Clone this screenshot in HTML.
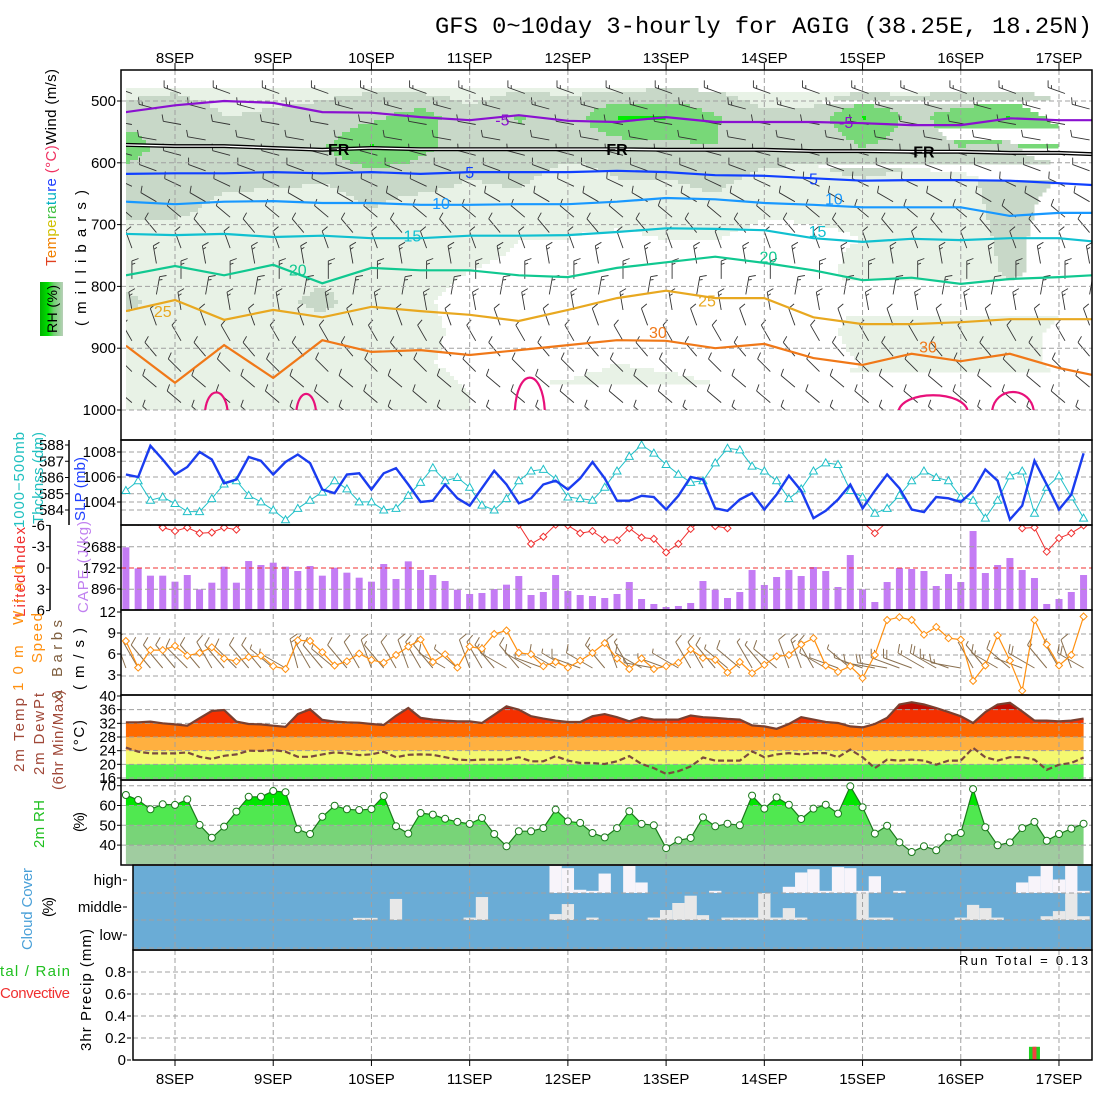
<!DOCTYPE html>
<html><head><meta charset="utf-8">
<style>
html,body{margin:0;padding:0;background:#fff}
svg{display:block;font-family:"Liberation Sans",sans-serif}
</style></head>
<body>
<svg id="chart" width="1100" height="1100" viewBox="0 0 1100 1100">
<defs>
<clipPath id="cp1"><rect x="126" y="72" width="966" height="338"/></clipPath>
<clipPath id="cp2"><rect x="121" y="440" width="971" height="85"/></clipPath>
<clipPath id="cp3"><rect x="121" y="525" width="971" height="85"/></clipPath>
<clipPath id="cp4"><rect x="121" y="610" width="971" height="85"/></clipPath>
<linearGradient id="rhg" x1="0" y1="0" x2="1" y2="0">
<stop offset="0" stop-color="#00b000"/><stop offset="0.35" stop-color="#00e000"/><stop offset="0.6" stop-color="#70d070"/><stop offset="1" stop-color="#b8d0b8"/></linearGradient>
</defs>
<text x="435" y="33" font-family="Liberation Mono, monospace" font-size="23" textLength="657" lengthAdjust="spacingAndGlyphs">GFS 0~10day 3-hourly for AGIG (38.25E, 18.25N)</text>
<g id="g-rh3d" clip-path="url(#cp1)"></g>
<g id="g-barb3d" clip-path="url(#cp1)"></g>
<g id="g-fills"></g>
<g id="g-grid"></g>
<g id="g-cont" clip-path="url(#cp1)"></g>
<g id="g-lines"></g>
<g id="g-frames" fill="none" stroke="#000" stroke-width="1.5">
<rect x="121" y="70" width="971" height="370"/>
<rect x="121" y="440" width="971" height="85"/>
<rect x="121" y="525" width="971" height="85"/>
<rect x="121" y="610" width="971" height="85"/>
<rect x="121" y="695" width="971" height="85"/>
<rect x="121" y="780" width="971" height="85"/>
<rect x="133" y="865" width="959" height="85"/>
<rect x="133" y="950" width="959" height="110"/>
<line x1="69" y1="440" x2="69" y2="525"/>
<line x1="50" y1="525" x2="50" y2="610"/>
</g>
<g id="g-labels" font-size="15"></g>
<g font-size="15">
<text transform="translate(56,266) rotate(-90)" textLength="197"><tspan fill="#e04020">T</tspan><tspan fill="#f08000">em</tspan><tspan fill="#d0c000">pe</tspan><tspan fill="#40c040">ra</tspan><tspan fill="#00b0c0">tu</tspan><tspan fill="#2040ff">re</tspan><tspan fill="#f03060"> (°C)</tspan><tspan fill="#000">Wind (m/s)</tspan></text>
<text transform="translate(86,326) rotate(-90)" textLength="136">(millibars)</text>
<rect x="40" y="282" width="23" height="54" fill="url(#rhg)"/>
<text transform="translate(57,333) rotate(-90)" font-size="14" textLength="48">RH (%)</text>
<text transform="translate(24,528) rotate(-90)" fill="#20c0c0" textLength="96">1000−500mb</text>
<text transform="translate(43,524) rotate(-90)" fill="#20c0c0" textLength="92">Thcknss (dm)</text>
<text transform="translate(85,521) rotate(-90)" fill="#2040ff" textLength="64">SLP (mb)</text>
<text transform="translate(25,617) rotate(-90)" fill="#f03030" textLength="90">Lifted Index</text>
<text transform="translate(88,613) rotate(-90)" fill="#c080f0" textLength="92">CAPE (J/kg)</text>
<text transform="translate(23,691) rotate(-90)" fill="#ff9010" textLength="125">10m Wind</text>
<text transform="translate(42,663) rotate(-90)" fill="#ff9010" textLength="50">Speed</text>
<text transform="translate(62,700) rotate(-90)" fill="#806040" textLength="80">&amp; Barbs</text>
<text transform="translate(84,690) rotate(-90)" textLength="62">(m/s)</text>
<text transform="translate(24,772) rotate(-90)" fill="#a04838" textLength="74">2m Temp</text>
<text transform="translate(44,775) rotate(-90)" fill="#a04838" textLength="82">2m DewPt</text>
<text transform="translate(63,790) rotate(-90)" fill="#a04838" textLength="100">(6hr Min/Max)</text>
<text transform="translate(84,752) rotate(-90)" textLength="32">(°C)</text>
<text transform="translate(44,848) rotate(-90)" fill="#20c020" textLength="48">2m RH</text>
<text transform="translate(84,832) rotate(-90)" textLength="20">(%)</text>
<text transform="translate(32,950) rotate(-90)" fill="#4aa0d8" textLength="82">Cloud Cover</text>
<text transform="translate(53,917) rotate(-90)" textLength="20">(%)</text>
<text x="0" y="976" fill="#20c020" textLength="70">tal / Rain</text>
<text x="0" y="998" fill="#f03030" textLength="70">Convective</text>
<text transform="translate(91,1051) rotate(-90)" textLength="122">3hr Precip (mm)</text>
<text x="1088" y="965" font-size="13" text-anchor="end" textLength="129">Run Total = 0.13</text>
</g>
</svg>
<script>
const NS='http://www.w3.org/2000/svg';
function mk(tag,attrs,parent){const e=document.createElementNS(NS,tag);for(const k in attrs)e.setAttribute(k,attrs[k]);parent.appendChild(e);return e;}
const G=id=>document.getElementById(id);

// ---------- data ----------
const days=['8SEP','9SEP','10SEP','11SEP','12SEP','13SEP','14SEP','15SEP','16SEP','17SEP'];
const slp=[1006.2,1006.0,1008.5,1007.4,1006.2,1006.8,1008.0,1007.4,1005.5,1005.8,1007.6,1007.3,1006.2,1007.2,1007.8,1007.1,1005.0,1004.7,1006.2,1006.3,1005.0,1006.3,1006.7,1005.4,1004.0,1004.1,1005.4,1004.3,1003.7,1005.1,1006.5,1005.4,1003.9,1004.3,1005.4,1005.7,1005.0,1005.9,1007.2,1005.9,1004.1,1004.1,1004.5,1004.4,1003.4,1004.5,1006.0,1005.8,1003.5,1003.3,1004.2,1004.7,1003.4,1004.6,1006.1,1004.9,1002.7,1003.3,1004.2,1005.4,1003.5,1004.9,1006.2,1005.1,1003.4,1003.2,1004.4,1004.3,1004.0,1004.9,1006.6,1005.7,1002.6,1003.7,1007.3,1005.4,1003.4,1004.6,1007.9];
const thick=[585.2,585.8,584.6,584.8,584.4,583.9,583.9,584.7,585.6,585.8,584.9,584.5,584.0,583.4,584.1,584.6,585.1,585.8,585.3,584.5,584.5,584.0,584.1,584.9,585.7,586.6,585.8,586.0,585.4,584.3,584.0,584.7,585.8,586.4,586.5,585.9,584.8,584.7,584.6,585.4,586.4,587.3,588.0,587.5,586.8,586.2,585.7,585.8,586.9,587.8,587.7,586.7,586.4,585.8,584.7,585.3,586.4,586.9,586.8,585.2,584.8,583.8,584.1,584.9,585.8,586.4,586.0,585.8,584.8,584.6,583.5,584.6,586.1,586.4,583.8,585.4,586.1,584.8,583.5];
const cape=[2674,1778,1465,1465,1209,1493,882,1166,1849,1166,2090,1920,2019,1849,1664,1877,1465,1806,1593,1379,1209,1962,1322,2076,1706,1493,1237,867,683,725,896,1081,1450,640,768,1493,811,640,597,512,683,1194,469,256,128,171,299,1237,867,512,768,1706,1067,1408,1706,1450,1834,1664,981,2346,882,341,1194,1792,1749,1664,1024,1536,1194,3370,1578,1920,2218,1706,1365,256,469,768,1493];
const liftedIndex=[-6.5,-6.5,-6.5,-5.7,-5.2,-5.7,-4.9,-5.0,-5.7,-5.4,-8,-8,-8,-8,-8,-8,-8,-8,-8,-8,-8,-8,-8,-8,-8,-8,-8,-8,-8,-8,-8,-8,-6.1,-3.4,-4.4,-6.1,-6.0,-4.9,-5.2,-4.0,-3.9,-5.6,-4.3,-4.1,-2.2,-3.4,-5.5,-7,-5.9,-5.6,-8,-8,-8,-8,-8,-8,-8,-8,-8,-8,-6.5,-4.9,-6.5,-8,-8,-8,-8,-8,-8,-8,-8,-8,-8,-5.6,-5.7,-2.3,-4.2,-4.9,-6.0];
const windSpeed=[8.0,4.2,6.7,6.7,7.3,5.9,6.3,7.1,5.5,5.1,5.7,5.9,4.4,4.0,8.1,8.0,6.4,4.5,5.1,6.2,5.3,4.9,6.0,7.2,8.2,5.0,6.1,4.2,7.2,6.9,9.0,9.5,6.3,6.1,4.4,5.0,4.2,5.2,6.3,7.7,5.5,4.0,5.5,4.0,4.4,4.9,6.8,5.6,5.3,3.5,5.0,3.4,4.6,5.8,6.0,7.5,8.4,4.5,3.6,4.4,2.7,6.0,11.0,11.4,11.0,8.9,10.0,8.4,8.2,2.3,4.5,8.8,5.2,0.9,11.0,7.5,4.5,6.0,11.5];
const windDir=[340,330,320,320,320,315,320,330,320,315,320,320,310,300,345,330,320,310,320,330,340,320,330,340,330,320,300,310,340,330,320,300,320,300,290,300,300,290,300,320,340,330,300,280,290,300,330,330,320,310,310,330,320,310,340,340,330,300,290,310,290,280,280,290,290,300,300,290,280,330,320,300,310,290,300,320,330,340,300];
const temp2m=[32.3,32.3,32.5,32.0,31.7,31.3,33.5,35.6,35.9,32.5,31.8,31.7,31.3,31.0,34.7,36.1,33.0,32.5,32.3,32.2,31.8,31.5,34.2,36.5,33.6,33.1,32.8,32.6,32.6,32.1,34.5,37.0,36.0,34.1,33.4,32.8,32.4,32.4,34.1,34.7,33.8,32.6,33.8,33.1,33.1,33.1,34.3,33.8,33.6,33.3,33.1,31.4,31.1,30.4,31.8,33.8,33.1,32.4,32.1,31.1,30.8,31.8,33.6,37.5,38.2,37.5,36.5,35.3,34.1,32.1,35.3,37.5,38.0,35.5,32.8,32.8,32.6,32.8,33.4];
const dewpt2m=[24.9,23.7,23.2,23.2,23.2,23.5,22.2,21.6,22.5,22.9,24.0,23.9,24.2,23.7,22.2,22.2,22.9,23.5,23.2,22.7,22.9,23.7,22.1,22.8,22.9,22.8,22.1,21.4,21.2,21.4,21.4,21.4,22.1,20.9,20.9,22.4,21.1,20.4,20.4,20.1,20.9,22.4,20.1,18.9,17.2,18.0,19.4,22.0,21.1,21.1,21.1,23.8,22.1,22.9,23.3,22.9,23.3,23.3,22.1,24.3,22.1,18.9,21.4,21.1,21.4,21.1,19.9,21.1,21.1,24.8,22.1,21.1,22.1,22.1,21.4,18.4,19.9,20.4,22.0];
const rh2m=[65.3,62.8,58.1,60.6,60.3,63.1,50.2,43.7,49.3,56.9,64.4,64.4,67.3,66.7,48.0,45.6,54.3,59.9,58.1,57.7,58.2,64.8,49.5,45.8,56.2,55.4,53.3,51.7,50.7,53.7,45.6,39.4,47.0,47.0,48.6,57.9,52.0,51.2,46.1,43.9,48.6,57.1,50.7,50.0,38.5,42.4,43.6,54.0,49.5,50.8,50.0,65.0,58.4,64.1,60.4,53.2,58.4,60.4,55.9,69.7,59.1,45.8,49.8,41.4,36.5,39.4,37.4,43.9,46.1,68.3,49.0,39.9,41.4,48.6,51.7,42.2,45.6,48.3,50.8];
const cloudHigh=[0,0,0,0,0,0,0,0,0,0,0,0,0,0,0,0,0,0,0,0,0,0,0,0,0,0,0,0,0,0,0,0,0,0,0,100,92,12,8,72,0,100,39,0,0,0,0,0,8,0,0,0,0,0,23,76,88,8,96,92,8,62,0,8,0,0,0,0,0,0,0,0,0,39,62,100,50,100,8];
const cloudMid=[0,0,0,0,0,0,0,0,0,0,0,0,0,0,0,0,0,0,0,8,8,0,78,0,0,0,0,0,9,85,0,0,0,0,0,22,59,0,9,0,0,0,0,9,37,63,90,18,0,9,9,9,100,9,44,9,0,0,0,0,100,9,9,0,0,0,0,0,9,56,44,9,0,0,0,14,33,100,14];
const cloudLow=new Array(79).fill(0);
const precipTotal=[0,0,0,0,0,0,0,0,0,0,0,0,0,0,0,0,0,0,0,0,0,0,0,0,0,0,0,0,0,0,0,0,0,0,0,0,0,0,0,0,0,0,0,0,0,0,0,0,0,0,0,0,0,0,0,0,0,0,0,0,0,0,0,0,0,0,0,0,0,0,0,0,0,0,0.12,0,0,0,0];
const precipConv=[0,0,0,0,0,0,0,0,0,0,0,0,0,0,0,0,0,0,0,0,0,0,0,0,0,0,0,0,0,0,0,0,0,0,0,0,0,0,0,0,0,0,0,0,0,0,0,0,0,0,0,0,0,0,0,0,0,0,0,0,0,0,0,0,0,0,0,0,0,0,0,0,0,0,0.12,0,0,0,0];
const rhTimes=[-12,0,12,24,36,48,60,72,84,96,108,120,132,144,156,168,180,192,204,216];
const rhLevels=[475,525,575,625,675,725,775,825,875,925,975];
const rhCols=[
[40,62,80,60,55,40,40,55,40,35,45],[45,65,60,60,55,40,40,40,40,40,45],[40,50,68,55,45,40,40,40,40,32,45],
[45,52,60,55,40,40,40,45,40,40,40],[45,55,68,52,40,40,45,55,40,30,40],[45,65,92,60,50,40,40,40,40,40,45],
[40,80,75,60,40,40,35,32,35,32,40],[40,55,60,50,40,40,30,25,25,25,30],[45,72,65,55,40,30,25,25,25,25,28],
[45,58,60,40,35,30,25,25,20,20,40],[40,92,60,50,40,25,20,25,25,30,45],[45,92,65,50,40,30,20,20,20,25,45],
[45,72,70,55,45,30,20,20,25,20,35],[35,55,60,45,35,20,20,20,20,20,40],[30,60,55,45,35,25,20,20,20,20,40],
[40,92,70,50,35,30,40,30,40,30,40],[40,65,60,45,40,40,35,35,40,40,30],[45,80,70,45,40,40,35,40,40,40,35],
[40,92,65,60,60,55,55,40,40,40,35],[40,60,92,50,40,40,40,35,25,25,40]];
const contTimes=[-12,0,12,24,36,48,60,72,84,96,108,120,132,144,156,168,180,192,204,216,224];
const contM5=[518,507,500,503,518,519,526,531,523,532,534,526,534,534,534,536,539,539,528,531,531];
const contFR=[571,573,573,576,579,576,578,578,578,578,578,579,579,579,581,581,582,582,584,584,586];
const cont5=[618,617,617,615,617,615,618,615,615,615,613,615,620,621,625,629,628,628,629,633,636];
const cont10=[663,667,663,662,665,665,668,668,667,667,663,657,659,665,668,672,672,672,686,681,681];
const cont15=[715,717,715,720,718,722,722,718,718,717,712,706,707,709,722,728,723,725,722,722,727];
const cont20=[782,767,782,765,795,770,774,774,782,785,770,761,752,762,774,790,786,796,788,785,782];
const cont25=[840,822,854,838,850,833,840,846,856,838,819,807,819,819,850,861,861,858,853,853,853];
const cont30=[896,956,895,948,887,906,903,911,903,895,887,888,900,893,916,927,909,921,909,932,943];
const hot35Bumps=[[7.3,12.9,967],[29.6,34.5,970],[83,90.4,935],[176.7,193.8,973],[199.6,209.9,966]];
const upperLevels=[475,500,525,550,575,600,625,650,675,700,725,750,775,800,825,850,875,900,925,950,975,1000];
const upperDir=[290,285,280,280,285,290,295,300,310,320,340,350,0,10,350,340,330,320,315,310,310,310];
const upperSpd=[8,8,7,7,7,6,6,6,6,6,7,8,8,8,8,7,7,7,6,6,6,5];

// ---------- scales ----------
const X=i=>175+(i-4)*12.278;
const XT=t=>175+t*98.22/24;
const yP=p=>101+(p-500)*0.618;
const ySLP=v=>502-(v-1004)*12.5;
const yTh=v=>510-(v-584)*16.25;
const yLI=v=>568+v*7.1;
const yCAPE=v=>610-v/42.67;
const ySpd=v=>697-v*7;
const yT=v=>696+(40-v)*3.417;
const yRH=v=>785.7+(70-v)*1.98;
const yPr=v=>1060-v*110;

// ---------- upper RH field ----------
function rhAt(t,p){
  let c=(t+12)/12; c=Math.max(0,Math.min(rhTimes.length-1.0001,c));
  let r=(p-475)/50; r=Math.max(0,Math.min(rhLevels.length-1.0001,r));
  const c0=Math.floor(c),r0=Math.floor(r),fc=c-c0,fr=r-r0;
  const a=rhCols[c0][r0],b=rhCols[c0+1][r0],d=rhCols[c0][r0+1],e=rhCols[c0+1][r0+1];
  return (a*(1-fc)+b*fc)*(1-fr)+(d*(1-fc)+e*fc)*fr;
}
function rhColor(v){return v>=90?'#00ee00':v>=70?'#78d878':v>=50?'#c8d8c8':v>=30?'#e8f2e6':'#ffffff';}
(function(){
  const g=G('g-rh3d');const step=4;
  for(let y=72;y<410;y+=step){
    let runStart=126,runCol=null;
    for(let x=126;x<=1092;x+=step){
      let col=null;
      if(x<1092){const t=(x+2-175)*24/98.22,p=500+(y+2-101)/0.618;col=rhColor(rhAt(t,p));}
      if(col!==runCol){
        if(runCol){const r=mk('rect',{x:runStart,y:y,width:x-runStart+0.5,height:step+0.5,fill:runCol},g);
          
          }
        runStart=x;runCol=col;
      }
    }
  }
})();

// ---------- barbs ----------
function barbD(x,y,dir,spd,len,tl){
  const th=dir*Math.PI/180,ux=Math.sin(th),uy=-Math.cos(th);
  const tx=x+ux*len,ty=y+uy*len;let d=`M${x.toFixed(1)},${y.toFixed(1)}L${tx.toFixed(1)},${ty.toFixed(1)}`;
  const a=70*Math.PI/180,vx=ux*Math.cos(a)-uy*Math.sin(a),vy=ux*Math.sin(a)+uy*Math.cos(a);
  const full=Math.floor(spd/5),half=(spd%5)>=2.5?1:0;
  for(let k=0;k<full+half;k++){
    const px=tx-ux*k*3.5,py=ty-uy*k*3.5,L=(k<full)?tl:tl/2;
    d+=`M${px.toFixed(1)},${py.toFixed(1)}l${(vx*L).toFixed(1)},${(vy*L).toFixed(1)}`;
  }
  return d;
}
(function(){
  const g=G('g-barb3d');
  for(let i=0;i<79;i+=2){
    upperLevels.forEach((p,r)=>{
      if(r%2!==(i/2)%2)return;
      const pa=mk('path',{d:barbD(X(i)+6,yP(p)+8,upperDir[r],upperSpd[r],18,7),stroke:'#333',fill:'none','stroke-width':0.9},g);
      
      
    });
  }
})();

// ---------- contours ----------
function contour(arr,color,w,name){
  const pts=arr.map((p,k)=>XT(contTimes[k]).toFixed(1)+','+yP(p).toFixed(1)).join(' ');
  const pl=mk('polyline',{points:pts,fill:'none',stroke:color,'stroke-width':w},G('g-cont'));
  
  
  return pts;
}
contour(contM5,'#8a10d0',2.2,'contour-minus5');
contour(contFR,'#000',4,'contour-freezing');
const frw=mk('polyline',{points:contFR.map((p,k)=>XT(contTimes[k]).toFixed(1)+','+yP(p).toFixed(1)).join(' '),fill:'none',stroke:'#fff','stroke-width':1.3},G('g-cont'));


contour(cont5,'#1040ff',2.2,'contour-5');
contour(cont10,'#1898ff',2.2,'contour-10');
contour(cont15,'#10c0d0',2.2,'contour-15');
contour(cont20,'#10c890',2.2,'contour-20');
contour(cont25,'#e8a820',2.2,'contour-25');
contour(cont30,'#f07818',2.2,'contour-30');
hot35Bumps.forEach(b=>{
  const x0=XT(b[0]),x1=XT(b[1]),yb=yP(1000),yt=yP(b[2]);
  const pa=mk('path',{d:`M${x0},${yb+3}C${x0+2},${yt-4} ${x1-2},${yt-4} ${x1},${yb+3}`,fill:'none',stroke:'#e8107a','stroke-width':2.2},G('g-cont'));
  
  
});
const contLabels=[['-5',80,530,'#8a10d0'],['-5',164,534,'#8a10d0'],['FR',40,578,'#000'],['FR',108,578,'#000'],['FR',183,582,'#000'],['5',72,615,'#1040ff'],['5',156,625,'#1040ff'],['10',65,665,'#1898ff'],['10',161,658,'#1898ff'],['15',58,718,'#10c0d0'],['15',157,710,'#10c0d0'],['20',30,773,'#10c890'],['20',145,752,'#10c890'],['25',-3,840,'#e8a820'],['25',130,823,'#e8a820'],['30',118,874,'#f07818'],['30',184,897,'#f07818']];
contLabels.forEach(l=>{
  const t=mk('text',{x:XT(l[1]),y:yP(l[2])+6,fill:l[3],'font-size':16,'text-anchor':'middle','font-weight':l[0]==='FR'?'bold':'normal'},G('g-cont'));
  t.textContent=l[0];
  
  
});

// ---------- panel fills ----------
(function(){
  const g=G('g-fills');
  const cb=mk('rect',{x:133,y:866,width:959,height:83,fill:'#6aacd6'},g);
  
  
  const bands=[[cloudHigh,893,'#f8f4fa','cloud-high-bar'],[cloudMid,920,'#e8e8e8','cloud-mid-bar'],[cloudLow,948,'#e8e8e8','cloud-low-bar']];
  bands.forEach(b=>{b[0].forEach((v,i)=>{if(v<=0)return;const h=v/100*27;
    const r=mk('rect',{x:X(i)-6.14,y:b[1]-h,width:12.28,height:h,fill:b[2]},g);
    
    });});
  cape.forEach((v,i)=>{const r=mk('rect',{x:X(i)-3.5,y:yCAPE(v),width:7,height:610-yCAPE(v),fill:'#c47cf4'},g);
    
    });
  const cpT=mk('clipPath',{id:'cpTemp'},g);
  const tArea='M'+X(0)+',779 '+temp2m.map((v,i)=>'L'+X(i).toFixed(1)+','+yT(v).toFixed(1)).join(' ')+' L'+X(78)+',779Z';
  mk('path',{d:tArea},cpT);
  const tg=mk('g',{'clip-path':'url(#cpTemp)'},g);
  
  
  const tBands=[[36,50,'#c00a00'],[32,36,'#f53000'],[28,32,'#ff6a00'],[24,28,'#ffb040'],[20,24,'#f4f870'],[10,20,'#50f050']];
  tBands.forEach(b=>{const r=mk('rect',{x:121,y:yT(b[1]),width:971,height:yT(b[0])-yT(b[1]),fill:b[2]},tg);
    
    });
  const cpR=mk('clipPath',{id:'cpRH'},g);
  const rArea='M'+X(0)+',864 '+rh2m.map((v,i)=>'L'+X(i).toFixed(1)+','+yRH(v).toFixed(1)).join(' ')+' L'+X(78)+',864Z';
  mk('path',{d:rArea},cpR);
  const rg=mk('g',{'clip-path':'url(#cpRH)'},g);
  
  
  const rBands=[[60,100,'#00e600'],[50,60,'#50e850'],[40,50,'#78d478'],[0,40,'#a0cca0']];
  rBands.forEach(b=>{const r=mk('rect',{x:121,y:yRH(b[1]),width:971,height:yRH(b[0])-yRH(b[1]),fill:b[2]},rg);
    
    });
  precipTotal.forEach((v,i)=>{if(v<=0)return;
    const r=mk('rect',{x:X(i)-5.5,y:yPr(v),width:11,height:1060-yPr(v),fill:'#20d020'},g);
    
    });
  precipConv.forEach((v,i)=>{if(v<=0)return;
    const r=mk('rect',{x:X(i)-2,y:yPr(v),width:4,height:1060-yPr(v),fill:'#f04040'},g);
    
    });
})();

// ---------- grid ----------
(function(){
  const g=G('g-grid');const dash={stroke:'#a0a0a0','stroke-width':1,'stroke-dasharray':'5,3'};
  function hl(y,x0,name){const l=mk('line',Object.assign({x1:x0,y1:y,x2:1092,y2:y},dash),g);
    
    }
  [500,600,700,800,900,1000].forEach(p=>hl(yP(p),121,'pressure-gridline'));
  [1004,1006,1008].forEach(v=>hl(ySLP(v),121,'slp-gridline'));
  [584,585,587].forEach(v=>hl(yTh(v),121,'thickness-gridline'));
  [-3,3].forEach(v=>hl(yLI(v),121,'li-gridline'));
  [9,6,3].forEach(v=>hl(ySpd(v),121,'wind-gridline'));
  [36,32,28,24,20,16].forEach(v=>hl(yT(v),121,'temp-gridline'));
  [70,60,50,40].forEach(v=>hl(yRH(v),121,'rh-gridline'));
  [893,920,948].forEach(y=>hl(y,133,'cloud-gridline'));
  [0.2,0.4,0.6,0.8].forEach(v=>hl(yPr(v),133,'precip-gridline'));
  const z=mk('line',{x1:121,y1:yLI(0),x2:1092,y2:yLI(0),stroke:'#f03030','stroke-dasharray':'5,3'},g);
  
  
  days.forEach((d,k)=>{const x=175+k*98.22;
    const l=mk('line',Object.assign({x1:x,y1:70,x2:x,y2:1060},dash),g);
    
    
    const t1=mk('line',{x1:x,y1:63,x2:x,y2:70,stroke:'#000'},g);
    
    
    const t2=mk('line',{x1:x,y1:1060,x2:x,y2:1066,stroke:'#000'},g);
    
    
    const a=mk('text',{x:x,y:63,'text-anchor':'middle','font-size':15},G('g-labels'));a.textContent=d;
    
    
    const b=mk('text',{x:x,y:1084,'text-anchor':'middle','font-size':15},G('g-labels'));b.textContent=d;
    
    
  });
})();

// ---------- series lines ----------
(function(){
  const g=G('g-lines');
  function poly(vals,fy,color,w,name,dash,clip){
    const a={points:vals.map((v,i)=>X(i).toFixed(1)+','+fy(v).toFixed(1)).join(' '),fill:'none',stroke:color,'stroke-width':w};
    if(dash)a['stroke-dasharray']=dash; if(clip)a['clip-path']=clip;
    const p=mk('polyline',a,g);
    
    
  }
  poly(thick,yTh,'#20c0c8',1,'thickness-line',null,'url(#cp2)');
  thick.forEach((v,i)=>{const x=X(i),y=yTh(v);
    const m=mk('path',{d:`M${x},${y-4}L${x+4},${y+3}L${x-4},${y+3}Z`,fill:'#fff',stroke:'#20c0c8'},g);
    
    });
  poly(slp,ySLP,'#1a3cf0',2.4,'slp-line',null,'url(#cp2)');
  const lg=mk('g',{'clip-path':'url(#cp3)'},g);
  
  
  const lp=mk('polyline',{points:liftedIndex.map((v,i)=>X(i).toFixed(1)+','+yLI(v).toFixed(1)).join(' '),fill:'none',stroke:'#f03030','stroke-width':1},lg);
  
  
  liftedIndex.forEach((v,i)=>{const x=X(i),y=yLI(v);
    const m=mk('path',{d:`M${x},${y-3.5}L${x+3.5},${y}L${x},${y+3.5}L${x-3.5},${y}Z`,fill:'#fff',stroke:'#f03030'},lg);
    
    });
  const wg=mk('g',{'clip-path':'url(#cp4)'},g);
  
  
  windDir.forEach((d,i)=>{
    const pa=mk('path',{d:barbD(X(i),668,d,windSpeed[i],30,9),stroke:'#8a7050',fill:'none','stroke-width':1},wg);
    
    });
  poly(windSpeed,ySpd,'#ff9010',1.2,'wind-speed-line');
  windSpeed.forEach((v,i)=>{const x=X(i),y=ySpd(v);
    const m=mk('path',{d:`M${x},${y-3.5}L${x+3.5},${y}L${x},${y+3.5}L${x-3.5},${y}Z`,fill:'#fff',stroke:'#ff9010'},g);
    
    });
  poly(temp2m,yT,'#7a4030',2.2,'temperature-line');
  poly(dewpt2m,yT,'#7a4a40',2.2,'dewpoint-line','6,3');
  poly(rh2m,yRH,'#1a7a1a',1.2,'rh2m-line');
  rh2m.forEach((v,i)=>{
    const c=mk('circle',{cx:X(i),cy:yRH(v),r:3.5,fill:'#fff',stroke:'#1a7a1a'},g);
    
    });
})();

// ---------- axis tick labels ----------
(function(){
  const g=G('g-labels');
  function lab(txt,x,y,name,anchor){const t=mk('text',{x:x,y:y+5,'text-anchor':anchor||'end'},g);t.textContent=txt;
    
    
    const tk=mk('line',{x1:x+1,y1:y,x2:x+5,y2:y,stroke:'#000'},g);
    
    }
  [500,600,700,800,900,1000].forEach(p=>lab(String(p),116,yP(p),'pressure-label'));
  [588,587,586,585,584].forEach(v=>lab(String(v),64,yTh(v),'thickness-label'));
  [1008,1006,1004].forEach(v=>lab(String(v),116,ySLP(v),'slp-label'));
  [-6,-3,0,3,6].forEach(v=>lab(String(v),45,yLI(v),'li-label'));
  [2688,1792,896].forEach(v=>lab(String(v),116,yCAPE(v),'cape-label'));
  [[12,'12'],[9,'9'],[6,'6'],[3,'3'],[0,'40']].forEach(v=>lab(v[1],116,ySpd(v[0])-1,'wind-label'));
  [36,32,28,24,20,16].forEach(v=>lab(String(v),116,yT(v),'temp-label'));
  [70,60,50,40].forEach(v=>lab(String(v),116,yRH(v),'rh-label'));
  [['high',880],['middle',907],['low',935]].forEach(v=>lab(v[0],122,v[1],'cloud-level-label'));
  [0,0.2,0.4,0.6,0.8].forEach(v=>lab(String(v),126,yPr(v),'precip-label'));
})();
</script>
</body></html>
